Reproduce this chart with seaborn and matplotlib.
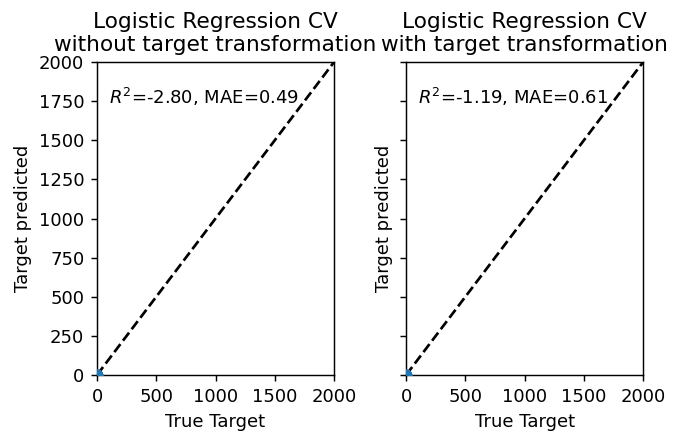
import numpy as np
import pandas as pd
import matplotlib
matplotlib.use("Agg")
from matplotlib import pyplot as plt
import seaborn as sns

# classification-like targets, all close to the origin
true_target = [0, 1, 2, 0, 1, 2, 1, 0, 2, 1]
pred_plain = [0, 1, 1, 0, 2, 2, 0, 1, 1, 0]
pred_trans = [0, 0, 1, 1, 1, 2, 0, 0, 2, 1]
diag = [0, 2000]

titles = ["Logistic Regression CV\nwithout target transformation",
          "Logistic Regression CV\nwith target transformation"]
scores = [r"$R^2$=-2.80, MAE=0.49", r"$R^2$=-1.19, MAE=0.61"]
yticks = [0, 250, 500, 750, 1000, 1250, 1500, 1750, 2000]
xticks = [0, 500, 1000, 1500, 2000]

DPI = 130
fig = plt.figure(figsize=(686 / DPI, 434 / DPI), dpi=DPI)
ax0 = fig.add_axes([0.1414, 0.136, 0.3455, 0.721])
ax1 = fig.add_axes([0.592, 0.136, 0.3455, 0.721], sharey=ax0)

for ax, pred, title, score in zip([ax0, ax1], [pred_plain, pred_trans], titles, scores):
    d = pd.DataFrame({"true": true_target, "pred": pred})
    sns.scatterplot(data=d, x="true", y="pred", ax=ax, color="#1f77b4",
                    s=40, linewidth=0, legend=False, zorder=3)
    ax.plot(diag, diag, "--k")
    ax.set_xlim(0, 2000)
    ax.set_ylim(0, 2000)
    ax.set_xticks(xticks)
    ax.set_yticks(yticks)
    ax.set_title(title)
    ax.set_xlabel("True Target")
    ax.set_ylabel("Target predicted")
    ax.text(100, 1735, score)

plt.setp(ax1.get_yticklabels(), visible=False)

fig.savefig("out.png", dpi=DPI)
